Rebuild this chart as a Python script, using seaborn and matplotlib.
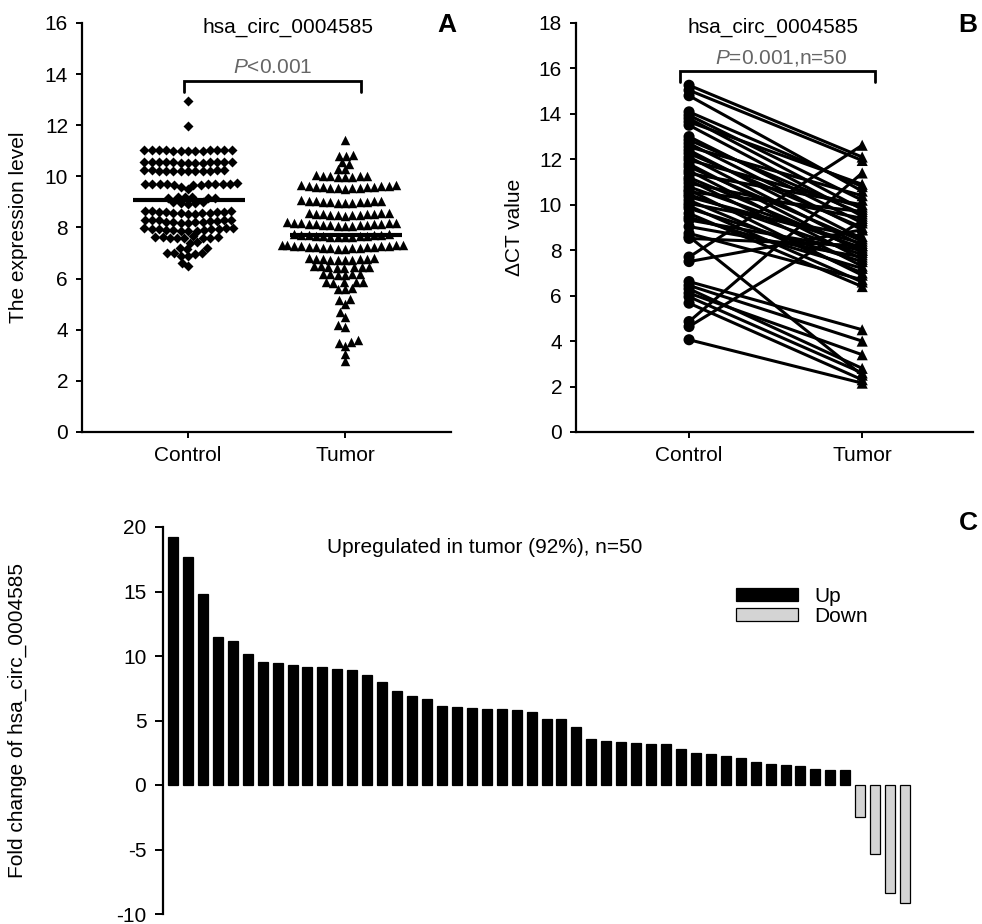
import numpy as np
import pandas as pd
import matplotlib
matplotlib.use("Agg")
import matplotlib.pyplot as plt
from matplotlib.collections import PathCollection
import seaborn as sns

sns.set_theme(style="ticks")
plt.rcParams["font.family"] = ["Liberation Sans", "DejaVu Sans"]
plt.rcParams["axes.unicode_minus"] = False
plt.rcParams["mathtext.fontset"] = "custom"
plt.rcParams["mathtext.it"] = "Liberation Sans:italic"
plt.rcParams["mathtext.rm"] = "Liberation Sans"
for key in ["text.color", "axes.labelcolor", "xtick.color", "ytick.color", "axes.edgecolor"]:
    plt.rcParams[key] = "black"

# ---------------- data ----------------
groups = ["Control", "Tumor"]

# Panel A: expression level of hsa_circ_0004585
control_expr = [12.96, 11.97,
                11.05, 11.03, 11.02, 11.0, 11.03, 11.05, 10.99, 11.0, 11.04, 11.02, 11.0, 10.99, 11.05,
                10.58, 10.55, 10.53, 10.55, 10.58, 10.54, 10.52, 10.55, 10.58, 10.53, 10.56, 10.58, 10.55,
                10.25, 10.22, 10.21, 10.2, 10.22, 10.25, 10.21, 10.24, 10.22, 10.2, 10.26, 10.21,
                9.72, 9.7, 9.68, 9.7, 9.72, 9.68, 9.7, 9.74, 9.7, 9.68, 9.72, 9.7, 9.5,
                9.2, 9.17, 9.15, 9.18, 9.2, 9.16, 9.6,
                8.98, 8.95, 8.93, 8.95, 8.98,
                8.65, 8.62, 8.6, 8.57, 8.55, 8.53, 8.52, 8.55, 8.57, 8.6, 8.62, 8.64, 8.66,
                8.3, 8.28, 8.25, 8.22, 8.2, 8.18, 8.17, 8.2, 8.22, 8.25, 8.28, 8.3, 8.31,
                7.98, 7.96, 7.93, 7.91, 7.89, 7.87, 7.86, 7.88, 7.9, 7.93, 7.95, 7.97, 7.99,
                7.65, 7.62, 7.6, 7.58, 7.57, 7.58, 7.6, 7.62, 7.64,
                7.42, 7.4, 7.2, 7.18, 7.15, 7.02, 7.0, 7.0, 6.98, 6.9, 6.88, 6.62, 6.48]

tumor_expr = [11.42,
              10.82, 10.8, 10.78, 10.55, 10.5, 10.3, 10.28,
              10.05, 10.02, 10.0, 9.98, 9.96, 10.0, 10.03, 9.97,
              9.65, 9.63, 9.6, 9.58, 9.55, 9.53, 9.52, 9.53, 9.55, 9.58, 9.6, 9.62, 9.64, 9.66,
              9.05, 9.03, 9.01, 8.99, 8.97, 8.96, 8.97, 8.99, 9.01, 9.03, 9.05, 9.06,
              8.55, 8.53, 8.51, 8.49, 8.47, 8.46, 8.47, 8.49, 8.51, 8.53, 8.55, 8.57,
              8.18, 8.16, 8.14, 8.12, 8.1, 8.08, 8.06, 8.05, 8.06, 8.08, 8.1, 8.12, 8.14, 8.16, 8.18, 8.2,
              7.74, 7.72, 7.7, 7.68, 7.66, 7.64, 7.62, 7.62, 7.64, 7.66, 7.68, 7.7, 7.72, 7.74,
              7.32, 7.3, 7.28, 7.26, 7.24, 7.22, 7.2, 7.18, 7.16, 7.16, 7.18, 7.2, 7.22, 7.24, 7.26, 7.28,
              7.3, 7.32,
              6.8, 6.78, 6.76, 6.74, 6.72, 6.72, 6.74, 6.76, 6.78, 6.8,
              6.48, 6.46, 6.44, 6.42, 6.42, 6.44, 6.46, 6.48,
              6.2, 6.18, 6.15, 6.15, 6.18, 6.2,
              5.88, 5.85, 5.82, 5.85, 5.88,
              5.62, 5.6, 5.58,
              5.2, 5.15, 5.0, 4.7, 4.5, 4.18, 4.1, 3.6, 3.52, 3.5, 3.36, 3.05, 2.77]

# Panel B: paired delta-CT values (n=50)
ct_control = [15.26, 15.04, 14.80, 14.09, 13.94, 13.80, 13.65, 13.50, 13.00, 12.85,
              12.70, 12.55, 12.40, 12.26, 12.10, 11.97, 11.80, 11.67, 11.50, 11.38,
              11.20, 11.09, 10.95, 10.79, 10.65, 10.57, 10.45, 10.35, 10.20, 10.06,
              9.95, 9.84, 9.62, 9.45, 9.33, 9.04, 8.74, 8.60, 8.52, 7.70,
              7.50, 6.62, 6.45, 6.30, 6.11, 5.95, 5.67, 4.86, 4.64, 4.06]
ct_tumor = [12.10, 11.95, 10.60, 10.80, 10.20, 9.80, 10.90, 9.50, 9.20, 9.60,
            8.90, 10.40, 8.50, 9.00, 8.20, 9.90, 7.90, 8.40, 7.60, 10.00,
            8.00, 7.30, 9.40, 8.10, 6.90, 9.70, 7.80, 8.30, 7.00, 8.60,
            6.60, 7.50, 6.40, 7.20, 8.00, 7.70, 6.70, 2.50, 8.20, 12.62,
            8.90, 4.50, 4.00, 2.80, 3.40, 2.60, 2.30, 11.40, 9.30, 2.15]

# Panel C: fold change per patient, sorted
fold_change = [19.26, 17.67, 14.77, 11.44, 11.15, 10.15, 9.56, 9.49, 9.28, 9.15,
               9.15, 9.03, 8.92, 8.54, 7.95, 7.31, 6.92, 6.69, 6.15, 6.08,
               5.95, 5.92, 5.87, 5.82, 5.64, 5.15, 5.15, 4.49, 3.59, 3.41,
               3.33, 3.28, 3.21, 3.18, 2.79, 2.49, 2.41, 2.21, 2.08, 1.79,
               1.64, 1.56, 1.51, 1.21, 1.13, 1.13, -2.49, -5.36, -8.38, -9.18]

gene = "hsa_circ_0004585"

# ---------------- figure ----------------
W, H = 982, 924
fig = plt.figure(figsize=(W / 100, H / 100), dpi=100)

def fx(px):
    return px / W

def fy(py):
    return 1 - py / H

FS = 15
LETTER_FS = 19
GRAY = "#666666"
DIAMOND = [(0, 1), (1, 0), (0, -1), (-1, 0)]

def style_axis(ax, ticklen=4, pad=6):
    for s in ["top", "right"]:
        ax.spines[s].set_visible(False)
    for s in ["left", "bottom"]:
        ax.spines[s].set_linewidth(1.6)
    ax.tick_params(axis="both", which="major", direction="out", length=ticklen, width=1.4,
                   labelsize=FS, pad=pad)

def filled_swarm(ax):
    # the last non-empty point collection that seaborn added
    cols = [c for c in ax.collections
            if isinstance(c, PathCollection) and len(c.get_offsets()) > 0]
    return cols[-1]

# ---- Panel A ----
axA = fig.add_axes([fx(82), fy(432), fx(451) - fx(82), fy(23) - fy(432)])
dfA_c = pd.DataFrame({"group": "Control", "value": control_expr})
dfA_t = pd.DataFrame({"group": "Tumor", "value": tumor_expr})
sns.swarmplot(data=dfA_c, x="group", y="value", order=groups, marker=DIAMOND, size=5.0,
              color="black", linewidth=0, warn_thresh=1, ax=axA)
swarm_c = filled_swarm(axA)
sns.swarmplot(data=dfA_t, x="group", y="value", order=groups, marker="^", size=5.0,
              color="black", linewidth=0, warn_thresh=1, ax=axA)
swarm_t = filled_swarm(axA)
axA.set_xlim(-0.675, 1.675)
axA.set_ylim(0, 16)

# lay the swarms out once, then keep those positions and draw the markers a bit larger
# so that neighbouring points touch and overlap
fig.canvas.draw()
for coll, msize in [(swarm_c, 7.2), (swarm_t, 6.8)]:
    if "draw" in coll.__dict__:
        del coll.draw
    coll.set_sizes([msize ** 2])

for i, vals in enumerate([control_expr, tumor_expr]):
    m = np.mean(vals)
    axA.hlines(m, i - 0.35, i + 0.36, color="black", lw=3, zorder=5)
axA.set_yticks(np.arange(0, 17, 2))
axA.set_xlabel("")
axA.set_ylabel("The expression level", fontsize=FS)
style_axis(axA)
axA.yaxis.set_label_coords(-0.146, 0.5)
axA.plot([-0.025, -0.025, 1.1, 1.1], [13.3, 13.75, 13.75, 13.3], color="black", lw=2,
         clip_on=False, solid_joinstyle="miter")
axA.text(0.54, 14.26, r"$\it{P}$<0.001", ha="center", va="center", fontsize=FS, color=GRAY)
fig.text(fx(288), fy(27), gene, ha="center", va="center", fontsize=FS)
fig.text(fx(447), fy(25), "A", ha="center", va="center", fontsize=LETTER_FS, fontweight="bold")

# ---- Panel B ----
axB = fig.add_axes([fx(576), fy(432), fx(973) - fx(576), fy(23) - fy(432)])
n_pairs = len(ct_control)
dfB = pd.DataFrame({
    "pair": list(range(n_pairs)) * 2,
    "pos": [0] * n_pairs + [1] * n_pairs,
    "group": ["Control"] * n_pairs + ["Tumor"] * n_pairs,
    "value": ct_control + ct_tumor,
})
sns.lineplot(data=dfB, x="pos", y="value", units="pair", estimator=None, color="black",
             lw=2.2, ax=axB, legend=False)
sns.scatterplot(data=dfB, x="pos", y="value", style="group",
                markers={"Control": "o", "Tumor": "^"}, color="black", s=64,
                edgecolor="black", linewidth=0, legend=False, ax=axB, zorder=4)
axB.set_xlim(-0.653, 1.64)
axB.set_ylim(0, 18)
axB.set_yticks(np.arange(0, 19, 2))
axB.set_xticks([0, 1])
axB.set_xticklabels(groups)
axB.set_xlabel("")
axB.set_ylabel("\u0394CT value", fontsize=FS)
style_axis(axB)
axB.yaxis.set_label_coords(-0.132, 0.5)
axB.plot([-0.05, -0.05, 1.075, 1.075], [15.4, 15.9, 15.9, 15.4], color="black", lw=2,
         clip_on=False, solid_joinstyle="miter")
axB.text(0.535, 16.45, r"$\it{P}$=0.001,n=50", ha="center", va="center", fontsize=FS, color=GRAY)
fig.text(fx(773), fy(27), gene, ha="center", va="center", fontsize=FS)
fig.text(fx(968), fy(25), "B", ha="center", va="center", fontsize=LETTER_FS, fontweight="bold")

# ---- Panel C ----
axC = fig.add_axes([fx(163), fy(914), fx(972) - fx(163), fy(527) - fy(914)])
dfC = pd.DataFrame({
    "rank": np.arange(len(fold_change)),
    "fc": fold_change,
    "direction": ["Up" if v > 0 else "Down" for v in fold_change],
})
sns.barplot(data=dfC, x="rank", y="fc", hue="direction", hue_order=["Up", "Down"],
            palette={"Up": "black", "Down": "#d4d4d4"}, dodge=False, width=0.67,
            edgecolor="black", linewidth=0.9, ax=axC)
axC.set_xlim(-0.67, 53.48)
axC.set_ylim(-10, 20)
axC.set_yticks(np.arange(-10, 21, 5))
axC.set_xlabel("")
axC.set_ylabel("Fold change of " + gene, fontsize=FS)
style_axis(axC, ticklen=6, pad=6)
axC.yaxis.set_label_coords(-0.168, 0.5)
axC.spines["bottom"].set_visible(False)
axC.tick_params(axis="x", which="both", bottom=False, labelbottom=False)
axC.legend(loc="upper left", bbox_to_anchor=(0.708, 0.845), frameon=False,
           fontsize=FS, handlelength=3.0, handleheight=0.58, handletextpad=0.75,
           labelspacing=0.05, borderpad=0, borderaxespad=0)
axC.text(0.398, 0.946, "Upregulated in tumor (92%), n=50", transform=axC.transAxes,
         ha="center", va="center", fontsize=FS)
fig.text(fx(968), fy(523), "C", ha="center", va="center", fontsize=LETTER_FS, fontweight="bold")

fig.savefig("out.png", dpi=100, facecolor="white")
